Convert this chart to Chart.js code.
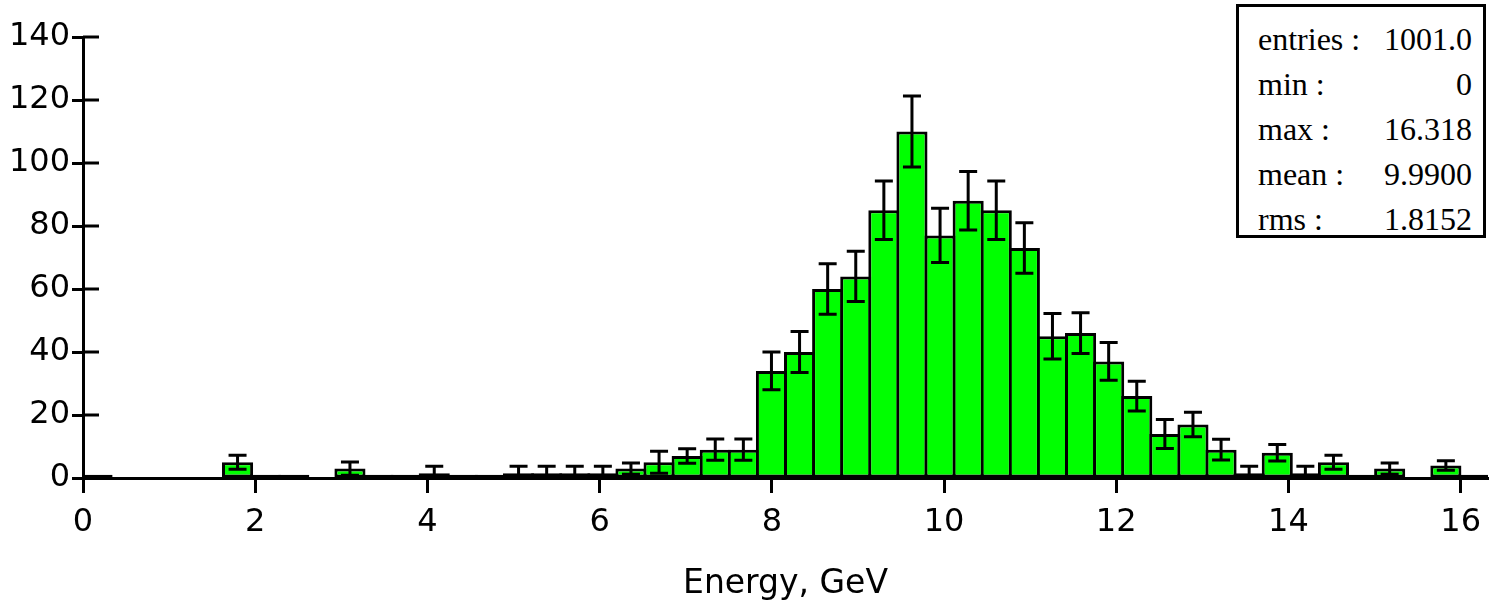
<!DOCTYPE html>
<html>
<head>
<meta charset="utf-8">
<script src="https://cdn.jsdelivr.net/npm/chart.js@4.4.1/dist/chart.umd.min.js"></script>
<style>
  body { margin: 0; background: #fff; }
  #wrap { position: relative; width: 1491px; height: 606px; }
  #stats {
    position: absolute; left: 1236px; top: 4px; width: 250px; height: 234px;
    box-sizing: border-box; border: 3px solid #000; background: #fff;
    padding: 10px 11px 0 19px;
    font: 32px "Liberation Serif", "Times New Roman", serif; color: #000;
  }
  #stats div { display: flex; justify-content: space-between; height: 45px; line-height: 45px; white-space: nowrap; }
</style>
</head>
<body>
<div id="wrap">
  <canvas id="histo"></canvas>
  <div id="stats"></div>
</div>
<script>
// histogram: 50 bins between min and max
var binMin = 0;
var binMax = 16.318;
var nBins = 50;

var counts = [
  1, 0, 0, 0, 0, 5, 1, 1, 0, 3,
  1, 1, 1.5, 1, 1, 1.5, 1.5, 1.5, 1.5, 3,
  5, 7, 9, 9, 34, 40, 60, 64, 85, 110,
  77, 88, 85, 73, 45, 46, 37, 26, 14, 17,
  9, 1.5, 8, 1.5, 5, 1, 3, 0, 4, 1
];
var errors = [
  0, 0, 0, 0, 0, 2.2, 0, 0, 0, 2.1,
  0, 0, 2.2, 0, 0, 2.2, 2.2, 2.2, 2.2, 1.8,
  3.5, 2.3, 3.4, 3.4, 6, 6.5, 8, 8, 9.3, 11.3,
  8.6, 9.3, 9.3, 8, 7.2, 6.5, 6, 4.7, 4.6, 3.9,
  3.3, 2.2, 2.6, 2.2, 2.2, 0, 1.8, 0, 1.5, 0
];
var xTicksStep = 2;
var yTicks = [0, 20, 40, 60, 80, 100, 120, 140];

var statLabels = ['entries :', 'min :', 'max :', 'mean :', 'rms :'];
var statValues = ['1001.0', '0', '16.318', '9.9900', '1.8152'];

var binWidth = (binMax - binMin) / nBins;
var binCenters = counts.map(function(c, i) { return binMin + (i + 0.5) * binWidth; });

// stats box
var box = document.getElementById('stats');
statLabels.forEach(function(l, i) {
  var row = document.createElement('div');
  row.innerHTML = '<span>' + l + '</span><span>' + statValues[i] + '</span>';
  box.appendChild(row);
});

Chart.defaults.font.family = 'DejaVu Sans';
Chart.defaults.color = '#000';

var errorBars = {
  id: 'errorBars',
  afterDatasetsDraw: function(chart) {
    var ctx = chart.ctx, xs = chart.scales.x, ys = chart.scales.y;
    ctx.save();
    ctx.strokeStyle = '#000';
    ctx.lineWidth = 3;
    // error bars
    counts.forEach(function(v, i) {
      if (!errors[i]) return;
      var x = xs.getPixelForValue(binCenters[i]);
      var yt = ys.getPixelForValue(v + errors[i]);
      var yb = ys.getPixelForValue(Math.max(v - errors[i], 0));
      ctx.beginPath();
      ctx.moveTo(x, yt); ctx.lineTo(x, yb);
      ctx.moveTo(x - 9, yt); ctx.lineTo(x + 9, yt);
      ctx.moveTo(x - 9, yb); ctx.lineTo(x + 9, yb);
      ctx.stroke();
    });
    // y ticks crossing into the plot
    var left = chart.chartArea.left;
    yTicks.forEach(function(t) {
      var y = ys.getPixelForValue(t);
      ctx.beginPath();
      ctx.moveTo(left, y); ctx.lineTo(left + 16, y);
      ctx.stroke();
    });
    ctx.restore();
  }
};

var ctx = document.getElementById('histo');
var histoChart = new Chart(ctx, {
  type: 'bar',
  data: {
    datasets: [{
      data: counts.map(function(c, i) { return {x: binCenters[i], y: c}; }),
      backgroundColor: '#00ff00',
      borderColor: '#000',
      borderWidth: 3,
      borderSkipped: false,
      categoryPercentage: 1,
      barPercentage: 1.107
    }]
  },
  options: {
    responsive: true,
    maintainAspectRatio: false,
    animation: false,
    layout: {padding: {top: 37, right: 0, left: 0, bottom: 0}},
    plugins: {legend: {display: false}, tooltip: {enabled: false}},
    scales: {
      x: {
        type: 'linear',
        offset: false,
        min: binMin,
        max: binMax,
        afterFit: function(s) { s.height = 128; },
        ticks: {stepSize: xTicksStep, includeBounds: false, font: {size: 32}, padding: 10, color: '#000'},
        grid: {offset: false, drawOnChartArea: false, tickLength: 15, tickWidth: 3, color: '#000'},
        border: {display: true, width: 3, color: '#000'},
        title: {display: true, text: 'Energy, GeV', font: {size: 33}, padding: {top: 0, bottom: 2}, color: '#000'}
      },
      y: {
        min: 0,
        max: 140,
        afterFit: function(s) { s.width = 83; },
        ticks: {stepSize: 20, font: {size: 32}, padding: 2, color: '#000'},
        grid: {drawOnChartArea: false, tickLength: 11, tickWidth: 3, color: '#000'},
        border: {display: true, width: 3, color: '#000'}
      }
    }
  },
  plugins: [errorBars]
});
</script>
</body>
</html>
